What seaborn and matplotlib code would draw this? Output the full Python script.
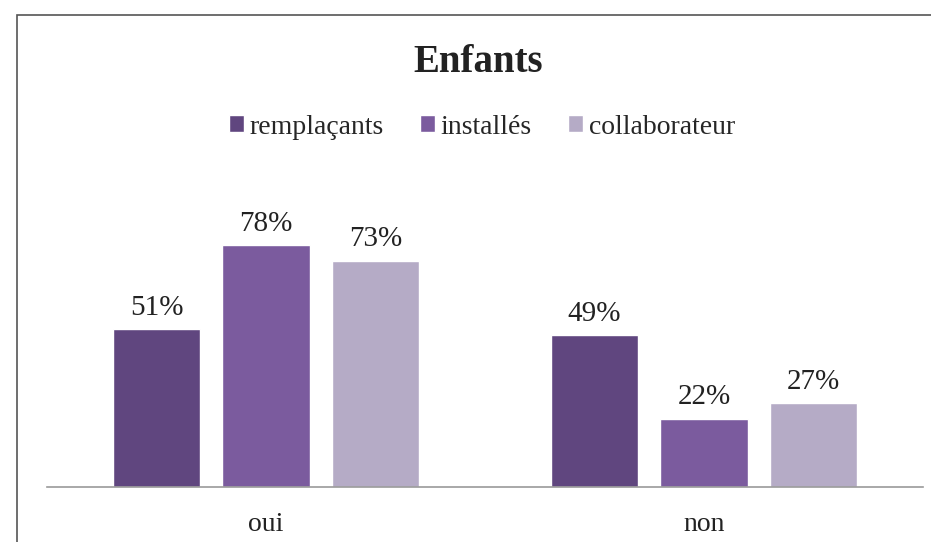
import pandas as pd
import seaborn as sns
import matplotlib.pyplot as plt
from matplotlib.patches import Rectangle

# Enfants: share of respondents with children, by status
categories = ['oui', 'non']
groups = ['remplaçants', 'installés', 'collaborateur']
remplacants = [51, 49]
installes = [78, 22]
collaborateur = [73, 27]
colors = ['#60467f', '#7b5b9e', '#b5abc6']

df = pd.DataFrame({
    'reponse': categories * 3,
    'groupe': [g for g in groups for _ in categories],
    'pct': remplacants + installes + collaborateur,
})

sns.set_style('white')
plt.rcParams['font.family'] = ['Liberation Serif', 'DejaVu Serif']

W, H = 931, 542
fig = plt.figure(figsize=(W / 100, H / 100), dpi=100)
ax = fig.add_axes([47 / W, (H - 487) / H, 876 / W, 310 / H])

sns.barplot(data=df, x='reponse', y='pct', hue='groupe', order=categories,
            hue_order=groups, palette=colors, width=0.75, gap=0.2,
            saturation=1, ax=ax, legend=True)

for c in ax.containers:
    ax.bar_label(c, fmt='%d%%', padding=6, fontsize=21, color='#222222')

ax.set_ylim(0, 100)
ax.set_xlim(-0.5, 1.5)
ax.set_xlabel('')
ax.set_ylabel('')
ax.set_yticks([])
ax.tick_params(axis='x', length=0, pad=18, labelsize=20, labelcolor='#222222')
for side in ['top', 'left', 'right']:
    ax.spines[side].set_visible(False)
ax.spines['bottom'].set_color('#9a9a9a')
ax.spines['bottom'].set_linewidth(1.2)

handles, labels = ax.get_legend_handles_labels()
ax.legend_.remove()
fig.legend(handles, labels, loc='center', bbox_to_anchor=(482 / W, 1 - 127 / H),
           ncol=3, frameon=False, fontsize=20, handlelength=0.55, handleheight=0.55,
           handletextpad=0.2, columnspacing=1.3)

fig.text(478 / W, 1 - 63 / H, 'Enfants', ha='center', va='center',
         fontsize=28, fontweight='bold', color='#222222')

# outer frame
fig.patches.append(Rectangle((17 / W, -0.05), 1.0, 1.05 - 15 / H, transform=fig.transFigure,
                             fill=False, edgecolor='#555555', linewidth=1.2))

fig.savefig('out.png', dpi=100)
